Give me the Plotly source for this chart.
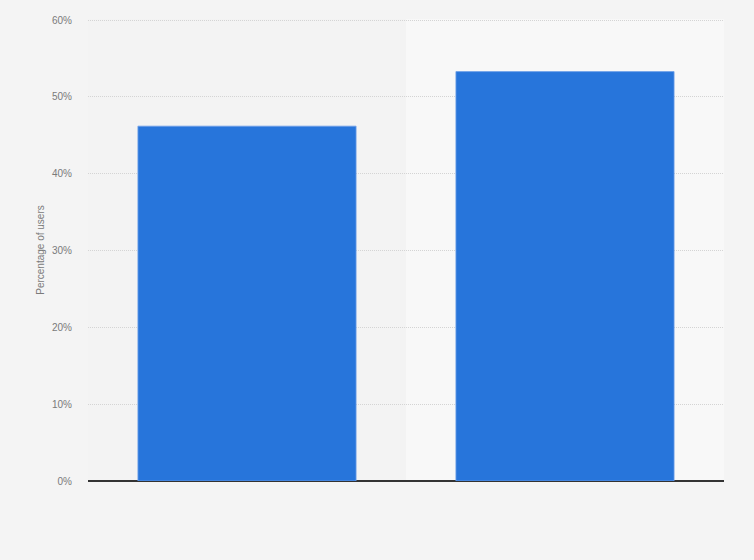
import plotly.graph_objects as go

categories = ["Group A", "Group B"]
share = [46.2, 53.3]
y_ticks = [0, 10, 20, 30, 40, 50, 60]
y_labels = ["0%", "10%", "20%", "30%", "40%", "50%", "60%"]

fig = go.Figure()

fig.add_trace(
    go.Bar(
        x=categories,
        y=share,
        width=0.686,
        marker_color="#2775db",
        marker_line=dict(color="#6fa0e8", width=0.8),
        showlegend=False,
        hoverinfo="y",
    )
)

# lighter band behind the second category
fig.add_shape(
    type="rect",
    xref="x",
    yref="paper",
    x0=0.5,
    x1=1.5,
    y0=0,
    y1=1,
    fillcolor="#f8f8f8",
    line_width=0,
    layer="below",
)

fig.update_layout(
    width=754,
    height=560,
    paper_bgcolor="#f4f4f4",
    plot_bgcolor="#f3f3f3",
    margin=dict(l=88, r=30, t=19, b=79),
    font=dict(family="Liberation Sans, Arial, sans-serif", color="#7a7a7a", size=10),
    bargap=0.3,
    xaxis=dict(
        range=[-0.5, 1.5],
        showticklabels=False,
        showgrid=False,
        zeroline=False,
        fixedrange=True,
    ),
    yaxis=dict(
        range=[0, 60.15],
        tickvals=y_ticks,
        ticktext=y_labels,
        ticklabelstandoff=15,
        showgrid=True,
        gridcolor="#d4d4d4",
        griddash="1px,1px",
        gridwidth=1,
        zeroline=True,
        zerolinecolor="#333333",
        zerolinewidth=1.5,
        title=dict(text="Percentage of users", font=dict(size=10, color="#7a7a7a"), standoff=5),
        fixedrange=True,
    ),
)

fig.write_html(
    "out.html",
    config={"displayModeBar": False},
    post_script="document.body.style.margin='0';",
)
